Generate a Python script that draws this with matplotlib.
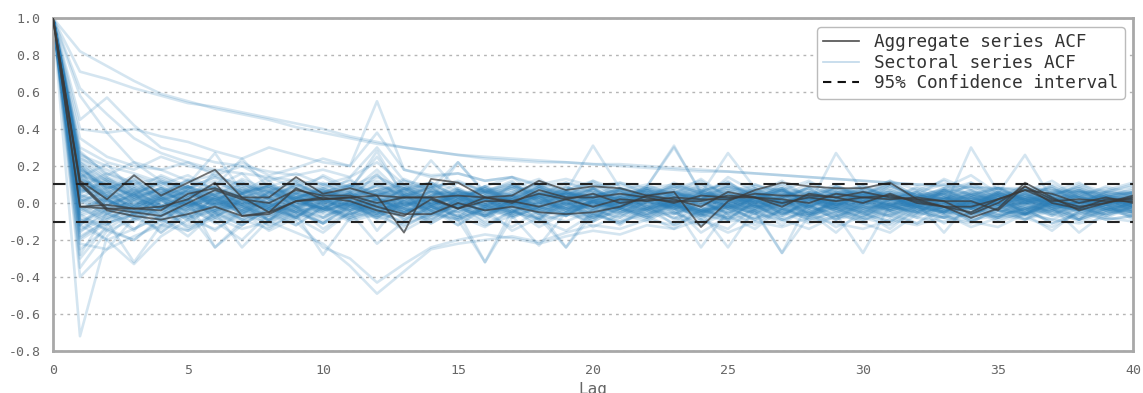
import numpy as np
import matplotlib
matplotlib.use("Agg")
import matplotlib.pyplot as plt
from matplotlib.lines import Line2D

# ---------------- data (ACF values in hundredths, lags 0..40) ----------------
lags = list(range(0, 41))
conf_level = 0.103

aggregate_acf_pct = [
    [100, 12, 2, 15, 4, 11, 18, 3, 3, 14, 5, 8, 4, -16, 13, 11, 3, 4, 12, 7, 9,
     8, 4, 6, -13, 1, 7, 11, 9, 8, 8, 11, 2, -2, -8, -3, 11, 3, -4, 0, 4],
    [100, 10, -4, -7, -9, -6, -2, -7, -5, 1, 2, 3, -2, -6, -6, 0, -4, -2, -5, -6, -5,
     -2, 4, 2, -2, 6, 3, 0, 3, 1, 3, 2, 3, 1, -6, 0, 9, 0, -3, 2, 2],
    [100, -2, -1, -3, -4, 5, 8, 3, -5, 8, 2, 3, 4, 3, 3, -3, 3, 0, 7, 3, 3,
     5, 3, 0, 4, 3, 3, -2, 5, 3, 0, 5, 0, -2, -5, 2, 7, 5, 0, 3, 0],
    [100, -2, -3, -3, -2, 2, 11, -7, -6, 1, 3, 1, -4, -7, 2, -3, 1, 1, -2, 2, -2,
     2, 1, 3, 2, 2, 5, 4, 4, 3, 6, 3, 2, 1, 1, -4, 9, 2, -2, 0, 3],
    [100, 11, -3, -5, -7, 0, 7, 2, 0, 7, 4, 4, 0, 3, 3, 4, 3, 1, 5, 2, 5,
     0, 2, 1, 1, 4, 3, 2, 0, 5, 3, 4, 1, -2, -2, 2, 7, 1, 2, 1, 1],
]

sectoral_acf_pct = [
    [100, 82,74,66,59,55,51,48,45,41,38, 35,32,30,28,26,25,24,23,22,21, 21,20,19,18,17,16,15,14,13,12, 11,10,9,8,8,7,6,6,5,5],
    [100, 71,67,62,58,54,52,49,46,43,40, 36,33,30,28,26,24,23,22,22,21, 20,19,18,17,17,16,15,14,13,12, 11,10,10,9,8,8,7,6,6,5],
    [100, 62,48,35,27,22,18,16,14,12,10, 9,12,8,6,5,7,4,3,5,2, 4,3,1,2,5,0,1,3,-1,2, 0,-2,1,3,-1,0,2,-2,1,0],
    [100, 58,38,22,18,12,15,9,6,10,4, 8,25,5,2,-3,4,1,-2,3,0, -1,2,-3,6,3,-2,0,4,-1,1, -3,2,0,-2,3,-1,1,-4,2,0],
    [100, 45,57,42,30,26,22,20,17,15,18, 14,30,12,9,11,7,10,5,8,6, 4,7,3,5,8,2,4,6,1,3, 5,0,2,4,-1,3,1,0,2,1],
    [100, 40,38,40,36,33,28,24,30,26,22, 20,38,18,15,16,12,14,10,13,9, 11,8,10,7,9,6,8,5,7,4, 6,3,5,2,4,1,3,0,2,1],
    [100, 35,25,20,18,22,15,20,12,16,10, 14,22,10,8,12,6,9,5,7,3, 8,4,6,2,10,3,5,1,4,-2, 3,0,5,-1,2,4,-3,1,0,2],
    [100, 28,15,22,12,8,14,5,10,3,7, 2,16,-2,4,6,-1,3,8,0,5, -3,2,7,-1,4,0,-4,3,1,6, -2,0,4,-3,2,5,-1,0,3,1],
    [100, -72,-18,-5,-12,3,-8,2,-10,5,-4, 0,-6,4,-2,-8,3,-5,6,-3,1, -7,4,-1,-9,2,-4,5,-2,-6,3, -1,-5,2,-3,4,-6,0,-2,3,-4],
    [100, -40,-25,-18,-12,-15,-8,-14,-10,-16,-22, -34,-49,-37,-25,-22,-20,-18,-21,-16,-12, -14,-9,-12,-6,-10,-8,-5,-11,-7,-9, -4,-8,-10,-5,-7,-3,-6,-9,-4,-7],
    [100, -35,-15,-20,-8,-18,-5,-12,-3,-10,-24, -30,-43,-33,-24,-20,-17,-19,-22,-18,-15, -17,-12,-14,-9,-16,-10,-13,-8,-11,-14, -9,-12,-7,-10,-13,-6,-9,-11,-8,-10],
    [100, -28,-5,-15,2,-10,4,-6,-1,-8,3, -4,6,-3,-7,2,-5,1,-9,4,-2, 0,-6,3,-4,-8,1,-3,5,-1,-6, 2,-4,0,-7,3,-2,-5,1,-3,-1],
    [100, -22,-25,-8,-14,-3,-10,-20,-6,-12,-2, -9,-4,-15,-7,-1,-11,-5,-8,-3,-13, -6,-10,-2,-16,-7,-4,-12,-1,-9,-5, -14,-3,-8,-11,-2,-6,-15,-4,-9,-7],
    [100, -18,-10,-32,-12,-6,-15,-4,-9,-2,-14, -5,-8,-1,-11,-3,-7,2,-6,-10,-4, -8,1,-5,-12,-2,-9,-3,-7,0,-6, -10,-1,-4,-8,2,-5,-9,-3,-6,-2],
    [100, -30,-12,2,-6,8,-3,5,-10,1,-4, 6,-15,3,-2,7,-8,0,4,-5,2, -3,8,-1,-6,5,-2,3,-9,1,4, -4,0,6,-3,2,-7,5,-1,3,-5],
    [100, 22,8,12,5,10,27,6,9,3,7, 2,10,4,-1,6,3,8,0,5,2, -2,4,1,6,3,0,5,-3,2,4, 1,-1,3,0,5,2,-2,4,1,3],
    [100, 18,-3,6,-8,2,-24,-10,-4,-12,-2, -7,3,-9,-1,-5,-32,-8,-2,-6,1, -4,-9,0,-5,-3,-8,-1,-6,2,-3, -7,-2,-5,1,-4,-6,0,-3,-8,-2],
    [100, 15,10,4,12,6,9,24,8,5,11, 3,7,9,2,22,6,4,10,1,8, 5,3,9,6,11,4,7,2,8,5, 10,3,6,9,4,7,2,5,8,3],
    [100, 12,-6,-10,-2,-14,-5,-24,-9,-3,-11, -6,-1,-8,-4,-12,-2,-7,-23,-5,-10, -3,-8,-1,-6,-9,-4,-27,-7,-2,-5, -11,-3,-8,-6,-1,-9,-4,-7,-2,-6],
    [100, 25,14,8,3,9,2,7,-1,5,1, 6,18,4,10,2,8,-2,5,3,7, 1,9,31,5,2,6,0,4,8,3, 5,1,7,2,6,-1,4,3,0,2],
    [100, 8,2,-4,5,-1,3,-6,4,0,-3, 2,-5,1,6,-2,3,-4,0,5,-1, 3,-2,4,-6,1,5,-3,2,-1,4, -2,6,-4,1,3,-5,2,0,4,-3],
    [100, 10,5,14,-2,8,0,11,3,-4,6, 9,1,-3,7,4,-1,10,2,5,-5, 8,3,-2,6,12,0,4,-3,9,2, 5,-4,7,1,-2,8,3,-1,6,4],
    [100, -8,-12,-3,-16,-6,-1,-9,-14,-4,-11, -2,-7,-13,-5,-9,-3,-15,-8,-24,-6, -10,-1,-12,-4,-7,-14,-3,-9,-5,-11, -16,-6,-2,-10,-4,-8,-13,-5,-1,-9],
    [100, 20,12,6,15,9,4,13,7,2,10, 5,14,8,3,11,6,1,9,4,12, 7,2,10,5,27,8,3,11,6,1, 9,4,13,7,2,10,5,8,3,6],
    [100, 5,-2,8,-5,3,-8,1,-3,6,-1, 4,-6,2,-4,7,0,-3,5,-7,2, -1,6,-4,3,-9,1,-2,5,-5,0, 4,-3,7,-1,-6,2,-4,1,5,-2],
    [100, 17,6,-2,9,1,-4,5,12,0,7, -3,4,10,-1,6,2,-5,8,3,-2, 7,0,5,11,-3,4,9,-1,27,6, 3,-2,8,1,5,-4,2,7,0,4],
    [100, -12,-20,-33,-18,-9,-14,-6,-11,-3,-8, -1,-5,-10,-2,-7,3,-4,-9,0,-6, -2,-8,1,-5,-24,-3,-7,2,-4,-10, -1,-6,3,-3,-8,0,-5,-2,-7,-1],
    [100, 3,9,-1,6,12,4,0,8,-3,5, 10,2,7,-2,4,9,1,6,-1,3, 8,5,-4,2,7,0,11,3,-2,6, 1,9,4,-3,5,26,2,7,0,4],
    [100, 14,2,-7,4,-3,8,-1,-9,3,-5, 1,-4,6,-8,0,-2,5,-6,2,-10, 4,-3,1,-7,3,-1,-5,6,-2,-8, 2,-4,0,-6,4,-3,1,-9,3,-1],
    [100, 9,16,11,4,13,7,2,10,5,15, 8,3,12,6,1,9,14,4,7,11, 2,8,5,13,3,10,6,1,9,4, 12,7,2,11,5,8,3,10,6,9],
    [100, -5,3,-9,1,-4,6,-2,-7,2,-3, -8,0,-5,3,-10,-1,-6,4,-3,-9, 1,-4,-11,2,-6,-1,-8,3,-5,-2, -7,0,-16,1,-4,-9,2,-6,-3,0],
    [100, 24,18,10,14,8,12,5,9,13,6, 10,4,8,11,3,7,2,6,9,1, 5,8,3,7,0,4,6,2,5,9, 3,1,6,4,8,2,5,7,3,6],
    [100, 11,-4,5,-10,0,-6,3,-2,-8,1, -5,2,-3,-9,0,-4,4,-7,-1,-3, 2,-6,0,-4,-2,-5,-27,1,-3,-7, 0,-2,-5,3,-1,-6,-4,2,-3,-5],
    [100, 7,12,3,8,-1,5,10,2,6,-3, 4,9,0,7,2,-2,5,11,3,8, 1,6,-1,4,9,2,7,0,5,3, 10,2,-3,30,6,1,4,8,-1,3],
    [100, -3,-9,-1,-6,2,-4,-8,0,-5,-11, -2,-7,1,-4,-9,-3,0,-6,-2,-8, -5,1,-3,-7,0,-4,-10,-2,-6,-27, -1,-5,-8,0,-4,-2,-7,-3,0,-5],
    [100, 19,7,15,9,3,11,6,14,8,2, 10,5,13,7,1,9,4,12,6,31, 8,3,11,5,2,9,7,0,6,4, 10,3,8,5,1,7,4,9,2,6],
    [100, 2,-7,4,-3,-12,1,-6,3,-9,-4, 0,-8,2,-5,-1,-10,3,-4,-7,0, -3,5,-6,-2,-9,1,-4,-7,2,-5, -1,-8,0,-3,4,-6,-2,-9,1,-4],
    [100, 13,4,9,1,7,-2,5,0,11,3, 6,-1,8,2,-3,4,9,1,6,0, 3,7,-2,5,1,8,-1,4,10,2, 6,0,3,-2,7,4,1,5,-1,3],
    [100, -15,-8,-2,-10,-5,-24,-12,-3,-7,-1, -9,-4,-11,-6,0,-8,-3,-13,-5,-2, -10,-6,-1,-8,-4,-12,-3,-7,-9,-2, -5,-11,-4,-1,-8,-6,-3,-10,-5,-2],
    [100, 6,11,2,7,4,9,-1,5,8,0, 3,7,10,4,1,6,-2,8,3,5, 0,4,9,2,6,-1,3,7,1,5, 8,2,4,-1,6,3,9,0,5,2],
    [100, 21,3,-5,2,-8,0,-3,6,-2,-10, 1,-6,4,-4,-1,-7,2,-5,0,-3, -8,1,-2,-24,-4,3,-6,-1,-9,0, -3,2,-5,-7,1,-4,0,-2,-6,1],
    [100, 16,9,4,13,6,1,8,3,10,5, 2,7,4,9,0,6,11,3,5,8, 1,4,7,2,9,5,0,6,3,8, 4,1,7,5,2,6,9,3,0,4],
    [100, -10,-3,-14,-7,-1,-9,-4,-12,-6,-28, -8,-2,-5,-11,-3,-7,-1,-9,-6,-4, -12,-2,-8,-5,-1,-10,-4,-7,-3,-9, -6,-2,-11,-5,-8,-1,-4,-9,-3,-6],
    [100, 4,1,8,-2,5,2,-4,3,7,0, -1,5,2,9,-3,4,1,-2,6,3, 0,7,-1,4,2,-5,3,8,0,5, -2,4,1,-3,6,2,0,5,-1,3],
    [100, 23,13,5,10,15,7,12,4,9,14, 6,11,3,8,22,5,10,2,7,12, 4,9,30,6,11,3,8,0,5,10, 2,7,12,4,9,1,6,11,3,8],
    [100, -6,-15,-9,-4,-13,-7,-2,-10,-5,-1, -8,-3,-12,-6,-9,-32,-4,-11,-5,-8, -2,-7,-14,-3,-9,-6,-1,-10,-4,-8, -12,-5,-2,-9,-7,-3,-11,-6,-1,-8],
    [100, 1,6,-3,4,9,-1,7,2,-5,5, 3,-2,8,0,6,-4,2,9,-1,4, 7,-3,5,1,-6,3,8,-2,6,0, 4,-5,2,7,-1,5,3,-4,1,6],
    [100, 26,20,16,11,8,14,10,6,12,3, 9,15,5,11,7,2,8,13,4,10, 6,1,8,12,3,7,10,2,9,5, 11,4,7,1,8,6,12,3,9,5],
    [100, -2,-11,-6,3,-8,-4,1,-13,-7,-2, 2,-9,-5,-1,-12,-3,-8,-2,4,-6, -11,-4,0,-7,-3,-1,-9,-5,-16,-3, 0,-7,-2,-10,-4,-6,1,-8,-3,-5],
    [100, 10,3,13,6,1,17,5,9,2,8, 12,4,7,11,3,6,0,9,5,1, 7,10,4,2,8,5,12,3,6,1, 9,4,7,11,2,5,8,0,6,10],
    [100, -25,-14,-20,-9,-15,-6,-12,-3,-8,-16, -5,-22,-10,-2,-7,-13,-4,-9,-15,-6, -11,-3,-8,-12,-5,-1,-9,-14,-7,-4, -10,-2,-6,-13,-8,-3,-11,-5,-9,-7],
    [100, 0,8,-6,3,-2,7,-4,1,5,-8, 2,-3,6,-1,4,-7,0,3,-5,8, -2,1,-9,5,-3,2,7,-4,0,-6, 3,-1,5,-8,2,6,-3,0,4,-2],
    [100, 14,21,6,11,3,9,16,2,8,5, 13,1,7,10,4,6,12,0,9,3, 11,5,8,2,14,6,1,9,4,7, 12,3,8,15,5,2,10,4,7,11],
    [100, -12,2,-6,-16,-4,1,-9,-2,-5,-11, -1,-7,-3,-10,2,-6,-13,-4,0,-8, -3,-6,-1,-9,-14,-2,-5,-8,3,-4, -7,-11,-1,-3,-6,-9,-2,-16,-5,-1],
    [100, 18,11,2,8,5,-1,6,10,1,4, 7,28,3,9,-2,5,8,1,6,3, 0,7,4,9,2,6,-1,5,3,8, 2,5,-2,6,4,1,7,3,0,5],
    [100, 9,-1,-8,-3,1,-5,-10,-2,3,-6, -4,0,-9,-2,-5,2,-7,-3,-1,-8, 1,-4,-6,0,-3,-9,2,-5,-7,-1, -4,0,-6,-2,-9,-5,1,-3,-7,-2],
    [100, 27,16,9,5,12,8,3,7,11,1, 5,9,4,0,8,2,6,10,3,7, 1,9,5,2,6,10,4,8,-1,3, 7,2,5,9,0,4,8,2,6,3],
    [100, -9,-20,-14,-7,-2,-11,-5,-15,-8,-3, -10,-6,-1,-9,-4,-12,-7,-2,-6,-10, -3,-8,-5,-11,-1,-6,-9,-4,-13,-7, -2,-5,-8,-3,-10,-6,-1,-9,-4,-7],
    [100, 5,13,7,2,9,4,11,6,1,8, 3,10,5,23,7,2,9,4,11,6, 1,8,3,10,5,0,7,12,4,9, 2,6,10,3,8,1,5,9,4,7],
    [100, -4,4,-2,-7,0,-3,5,-5,-1,3, -6,0,-4,2,-8,-2,1,-5,-24,-3, 0,-7,2,-4,-1,-6,3,-3,-8,1, -2,-5,0,-9,-3,2,-6,-1,-4,0],
    [100, 30,22,18,25,20,17,22,15,19,24, 20,55,18,14,16,12,14,9,11,8, 10,6,9,4,7,3,6,2,5,1, 4,0,3,-1,2,0,3,-2,1,0],
    [100, 15,4,-3,6,1,-5,3,8,-2,4, 0,-6,5,2,-3,7,-1,3,-4,1, 6,-2,3,0,-5,4,1,-3,7,2, -1,4,-2,5,0,-4,3,1,-2,2],
    [100, -7,-2,5,-4,7,2,-6,1,-3,6, -1,4,-5,0,3,-2,6,-4,1,-7, 2,5,-3,1,-6,3,-1,4,-2,0, 5,-3,1,-5,2,4,-1,-4,3,-2],
    [100, 20,7,1,-3,5,9,2,-4,3,0, 6,-2,4,8,-1,2,-5,3,7,0, -3,4,1,6,-2,3,8,-1,2,5, -4,1,3,-2,6,0,4,-3,2,1],
    [100, -14,-6,2,-1,-8,3,-4,6,-2,-5, 1,-3,-7,4,-1,2,-6,0,3,-4, -2,5,-5,-1,3,-3,0,-6,2,-1, 4,-2,-5,1,-3,3,-1,-4,2,-3],
    [100, 11,3,7,-2,4,1,9,-3,5,2, -1,6,3,-4,2,8,0,4,-2,5, 3,-3,6,1,-1,4,7,-2,3,0, 5,2,-3,4,1,6,-1,3,0,2],
    [100, 3,-5,-1,4,-6,2,-2,-8,1,-3, 5,-4,0,-6,3,-1,-5,2,-7,1, -3,4,-2,-5,0,2,-6,1,-3,-4, 2,-1,-5,3,-2,0,-7,1,-4,-1],
    [100, 18,9,5,11,4,7,0,6,3,9, 1,5,8,-1,4,6,2,7,0,3, 8,1,5,3,-2,6,2,9,4,1, 7,3,0,5,8,2,4,6,1,3],
    [100, -19,-9,-4,-7,-1,-5,0,-3,-8,2, -4,-1,-6,1,-3,-7,0,-2,-5,-1, -6,-3,2,-4,-8,-1,-3,-5,0,-2, -6,1,-4,-2,-7,-3,0,-5,-1,-4],
    [100, 7,1,-3,2,6,-1,4,-4,0,3, -2,5,1,-5,2,-1,4,-3,6,0, 2,-4,3,-1,5,-2,0,4,-3,1, -1,3,-5,2,0,5,-2,1,-3,3],
    [100, 13,6,10,3,-1,5,8,2,-2,6, 4,0,7,2,5,-3,3,9,1,4, -1,6,2,8,0,3,5,-2,4,7, 1,3,6,0,2,8,-1,4,3,1],
    [100, -3,2,-6,-2,1,-4,3,-1,-7,0, -3,2,-5,-1,4,-2,-6,1,-3,0, -4,2,-1,-5,1,-2,3,-6,0,-3, -1,2,-4,0,-6,1,-2,-3,2,-1],
    [100, 22,12,3,8,2,6,-1,4,9,1, 5,-2,3,6,0,8,2,-1,5,3, 7,0,4,-2,6,1,3,8,-1,4, 2,6,0,3,-2,5,1,7,2,0],
    [100, -11,-4,0,-9,-3,2,-5,-1,-6,1, -2,-8,0,-4,1,-6,-2,-3,2,-7, -1,-4,0,-5,-2,3,-6,-1,-3,-8, 0,-2,-5,1,-3,-6,0,-4,-1,-2],
    [100, 9,14,4,1,7,3,-2,5,2,8, 0,4,-1,6,3,1,7,-3,2,5, 3,-1,6,2,0,5,-2,4,1,7, -1,3,5,0,4,2,-3,6,1,3],
    [100, 1,-6,3,-3,0,-7,2,-2,4,-4, -1,3,-5,1,-2,-6,2,0,-3,4, -5,1,-2,-4,3,-1,-6,2,-3,1, -4,0,2,-5,1,-3,3,-2,-4,0],
    [100, 16,2,6,-1,9,4,1,-3,7,2, 5,1,-2,4,8,0,3,-1,6,2, -3,5,2,7,1,-1,4,3,-2,6, 2,0,5,-1,3,7,1,-2,4,2],
    [100, -16,-3,-8,1,-4,-2,-9,0,-5,-1, -7,2,-3,-6,0,-4,-1,-8,1,-2, -5,-3,0,-7,-1,-4,2,-6,-2,-3, -8,0,-1,-5,-3,1,-6,-2,-4,0],
    [100, 6,10,-1,5,2,8,3,-2,6,1, 9,2,-3,4,7,1,-1,5,3,8, 0,4,6,-2,3,1,7,2,5,-1, 4,8,1,-2,5,3,0,6,2,4],
    [100, -1,-8,-2,3,-5,0,-3,-9,-1,2, -4,0,-6,-2,3,-5,-1,-3,-7,1, -2,-5,2,-3,-1,-6,0,-4,-2,2, -5,-1,-3,-6,1,-2,-4,0,-3,-5],
    [100, 12,5,1,8,-2,3,6,0,-4,5, 2,7,-1,3,0,5,-3,4,2,6, -2,3,1,-4,5,2,-1,6,0,3, 4,-2,2,5,-1,3,0,4,-3,1],
    [100, -6,1,-4,-9,-2,3,-1,-6,2,-3, 0,-5,-2,3,-7,-1,1,-4,-2,-6, 2,-3,-1,-5,0,-2,-7,1,-4,-1, -3,2,-6,-2,0,-5,-1,-3,1,-4],
    [100, 19,8,12,2,6,0,5,9,1,4, 7,2,-1,5,3,9,0,4,6,1, 3,7,-1,5,2,8,1,-2,4,6, 0,5,2,7,-1,3,6,1,4,2],
    [100, 4,-3,1,-6,2,-1,-4,3,-2,0, 5,-3,-1,2,-5,1,4,-2,0,-4, 3,-1,-6,2,0,-3,4,-2,1,-5, 2,-1,3,-4,0,2,-3,1,-1,0],
    [100, -9,-14,-5,-1,-7,-3,1,-5,-2,-8, -1,-4,1,-6,-2,-3,-7,0,-4,-1, -5,0,-3,-6,-2,1,-4,-1,-7,-2, -3,0,-5,-2,-4,-6,0,-3,-1,-5],
    [100, 10,0,4,7,-1,2,5,-2,3,6, 1,-2,4,0,6,2,-1,5,3,-3, 4,1,6,-1,2,5,0,3,-2,4, 6,1,-1,3,5,0,2,-2,4,1],
    [100, -20,-11,-6,-2,-9,-4,-1,-7,0,-3, -6,-2,-5,0,-8,-3,-1,-4,-6,0, -3,-7,-1,-4,-2,-5,0,-6,-3,-1, -4,-2,-7,0,-3,-5,-1,-2,-6,-3],
    [100, 8,4,-2,3,9,1,-1,6,2,-3, 4,7,1,-2,5,0,3,8,-1,2, 6,1,-3,4,2,7,0,3,-1,5, 2,6,-2,1,4,0,5,3,-1,2],
    [100, 2,-1,5,-3,1,4,-2,0,-5,3, -1,2,-4,1,5,-2,0,3,-3,1, -2,4,0,-4,2,1,-3,5,-1,0, 3,-2,1,4,-3,0,2,-1,3,-2],
    [100, 14,1,-4,2,-2,5,-5,1,3,-1, -4,2,0,-3,4,-1,-5,1,2,-2, 0,-4,3,1,-1,-3,2,-5,0,3, -2,1,-3,2,-1,-4,1,3,-2,0],
    [100, -12,-1,3,-3,4,-1,2,-4,1,5, -2,1,3,-3,0,4,-1,2,-4,1, 3,-2,0,4,-3,2,1,-1,3,0, -2,4,1,-3,2,0,-1,3,1,-2],
]

legend_labels = ["Aggregate series ACF", "Sectoral series ACF", "95% Confidence interval"]
y_ticks = [-0.8, -0.6, -0.4, -0.2, 0.0, 0.2, 0.4, 0.6, 0.8, 1.0]
x_ticks = [0, 5, 10, 15, 20, 25, 30, 35, 40]

# ---------------- plotting ----------------
mono = "DejaVu Sans Mono"
sector_color = "#2c7fb8"
agg_color = "#3a3a3a"
gray = "#a8a8a8"

fig = plt.figure(figsize=(11.43, 3.93), dpi=100)
ax = fig.add_axes([53 / 1143, 1 - 351 / 393, 1080 / 1143, 333 / 393])

for s in sectoral_acf_pct:
    ax.plot(lags, np.array(s) / 100.0, color=sector_color, alpha=0.2, lw=1.9,
            solid_joinstyle="round", zorder=2)

for a in aggregate_acf_pct:
    ax.plot(lags, np.array(a) / 100.0, color=agg_color, alpha=0.72, lw=1.3, zorder=4)

for c in (conf_level, -conf_level):
    ax.axhline(c, color="#222222", lw=1.5, ls=(0, (6, 5)), zorder=5)

ax.set_xlim(0, 40)
ax.set_ylim(-0.8, 1.0)
ax.set_xticks(x_ticks)
ax.set_yticks(y_ticks)
ax.set_xticklabels([str(t) for t in x_ticks], fontfamily=mono, fontsize=9.5, color="#666666")
ax.set_yticklabels([f"{t:.1f}" for t in y_ticks], fontfamily=mono, fontsize=9.5, color="#666666")
ax.tick_params(length=0, pad=9)
ax.yaxis.grid(True, ls=(0, (2, 3)), color="#b5b5b5", lw=1)
ax.set_axisbelow(True)
for sp in ax.spines.values():
    sp.set_color(gray)
    sp.set_linewidth(2)

ax.set_xlabel("Lag", fontfamily=mono, fontsize=11.5, color="#666666", labelpad=4)

handles = [
    Line2D([], [], color=agg_color, lw=1.2, alpha=0.9),
    Line2D([], [], color=sector_color, lw=1.2, alpha=0.3),
    Line2D([], [], color="#111111", lw=1.5, ls=(0, (4, 3))),
]
leg = ax.legend(handles, legend_labels, loc="upper right",
                bbox_to_anchor=((1125 - 53) / 1080, (351 - 27) / 333),
                borderaxespad=0, prop={"family": mono, "size": 12.7},
                frameon=True, fancybox=True, handlelength=2.0, handletextpad=0.9,
                labelspacing=0.15, borderpad=0.35)
leg.get_frame().set_edgecolor("#bbbbbb")
leg.get_frame().set_linewidth(1)
leg.get_frame().set_alpha(1)
for t in leg.get_texts():
    t.set_color("#333333")
leg.set_zorder(10)

fig.savefig("out.png", dpi=100)
